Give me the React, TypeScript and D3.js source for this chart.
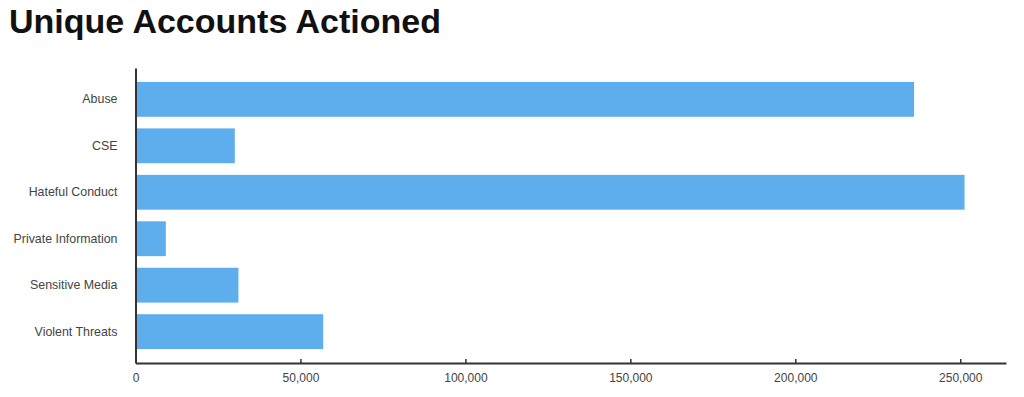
import React, { useEffect, useRef } from 'react';
import * as d3 from 'd3';

const categories = ['Abuse', 'CSE', 'Hateful Conduct', 'Private Information', 'Sensitive Media', 'Violent Threats'];
const accounts = [236000, 30100, 251300, 9200, 31200, 56900];
const xTicks = [0, 50000, 100000, 150000, 200000, 250000];

const W = 1024;
const H = 397;
const FONT = '"Liberation Sans", Arial, Helvetica, sans-serif';

export default function App() {
  const ref = useRef<SVGSVGElement>(null);

  useEffect(() => {
    const svg = d3.select(ref.current);
    svg.selectAll('*').remove();

    const left = 135.5, right = 1006, top = 68, bottom = 363;

    // title
    svg.append('text')
      .attr('x', 9).attr('y', 33)
      .attr('font-family', FONT)
      .attr('font-weight', 'bold')
      .attr('font-size', 34)
      .attr('fill', '#111')
      .text('Unique Accounts Actioned');

    const x = d3.scaleLinear()
      .domain([0, d3.max(accounts)! * 1.05])
      .range([left, right]);

    const y = d3.scaleBand<string>()
      .domain(categories)
      .range([top, bottom])
      .paddingInner(0.25)
      .paddingOuter(0.3);

    // bars
    svg.append('g')
      .selectAll('rect')
      .data(categories)
      .enter()
      .append('rect')
      .attr('x', x(0))
      .attr('y', d => y(d)!)
      .attr('width', (d, i) => x(accounts[i]) - x(0))
      .attr('height', y.bandwidth())
      .attr('fill', '#5eaeee');

    // x axis
    const gx = svg.append('g').attr('transform', `translate(0,${bottom})`);
    gx.call(d3.axisBottom(x).tickValues(xTicks).tickSizeInner(-4).tickSizeOuter(0).tickPadding(10).tickFormat(d3.format(',')) as any);
    gx.select('.domain').attr('stroke', '#333').attr('stroke-width', 2);
    gx.selectAll('.tick line').attr('stroke', '#333').attr('stroke-width', 1.5);
    gx.selectAll('.tick text')
      .attr('font-family', FONT)
      .attr('font-size', 12)
      .attr('fill', '#444');

    // y axis
    const gy = svg.append('g').attr('transform', `translate(${left},0)`);
    gy.call(d3.axisLeft(y).tickSize(0).tickPadding(18) as any);
    gy.select('.domain').attr('stroke', '#333').attr('stroke-width', 2);
    gy.selectAll('.tick text')
      .attr('font-family', FONT)
      .attr('font-size', 12.4)
      .attr('fill', '#444');
  }, []);

  return (
    <svg ref={ref} width={W} height={H} style={{ position: 'absolute', left: 0, top: 0, background: '#fff' }} />
  );
}
